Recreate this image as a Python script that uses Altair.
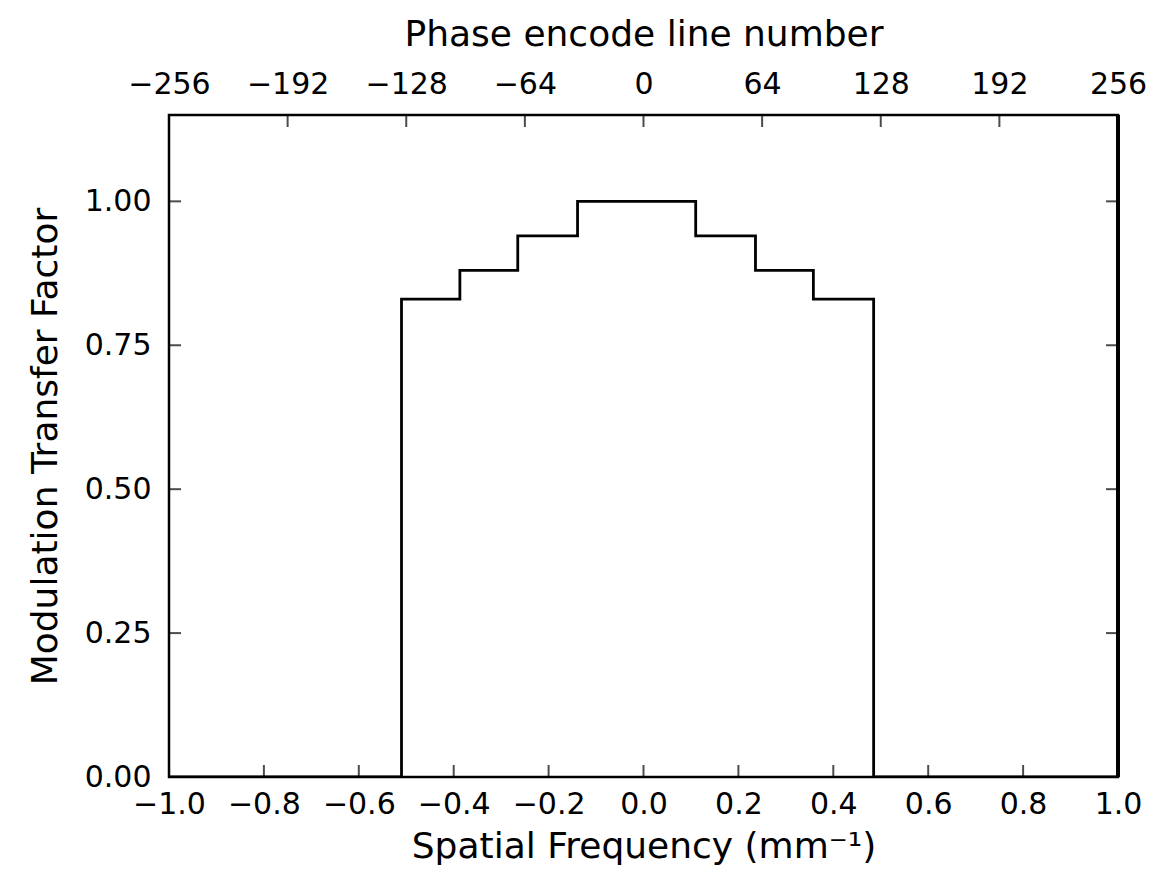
import altair as alt
import pandas as pd

# ---- data ----
freq = [-1.0, -0.51, -0.387, -0.265, -0.139, 0.11, 0.236, 0.358, 0.485, 1.0]
mtf = [0.0, 0.83, 0.88, 0.94, 1.00, 0.94, 0.88, 0.83, 0.0, 0.0]

bottom_labels = [-1.0, -0.8, -0.6, -0.4, -0.2, 0.0, 0.2, 0.4, 0.6, 0.8, 1.0]
bottom_ticks = [-0.8, -0.6, -0.4, -0.2, 0.0, 0.2, 0.4, 0.6, 0.8]
top_lines_labels = [-256, -192, -128, -64, 0, 64, 128, 192, 256]
top_lines_ticks = [-192, -128, -64, 0, 64, 128, 192]
y_labels = [0.0, 0.25, 0.50, 0.75, 1.00]
y_ticks = [0.25, 0.50, 0.75, 1.00]

FONT = "DejaVu Sans"
LABEL_SIZE = 30
TITLE_SIZE = 36
W, H = 949, 662
YMAX = 1.15

xscale = alt.Scale(domain=[-1, 1], nice=False, zero=False)
yscale = alt.Scale(domain=[0, YMAX], nice=False, zero=False)

step_df = pd.DataFrame({"freq": freq, "mtf": mtf})

common = dict(ticks=False, domain=False, grid=False, labelFlush=False,
              labelOverlap=False, labelFontSize=LABEL_SIZE, labelFont=FONT,
              labelColor="black", titleFontSize=TITLE_SIZE, titleFont=FONT,
              titleFontWeight="normal", titleColor="black")

line = alt.Chart(step_df).mark_line(
    interpolate="step-after", color="black", strokeWidth=2.8, clip=True
).encode(
    x=alt.X("freq:Q", scale=xscale,
            axis=alt.Axis(orient="bottom", values=bottom_labels, format=".1f",
                          title="Spatial Frequency (mm⁻¹)",
                          labelPadding=12, titlePadding=10, **common)),
    y=alt.Y("mtf:Q", scale=yscale,
            axis=alt.Axis(orient="left", values=y_labels, format=".2f",
                          title="Modulation Transfer Factor",
                          labelPadding=18, titlePadding=20, **common)),
)

top_df = pd.DataFrame({"line": top_lines_ticks})
top_ticks = alt.Chart(top_df).transform_calculate(
    pos="datum.line / 256"
).mark_tick(orient="vertical", size=24, thickness=2, color="black", clip=True).encode(
    x=alt.X("pos:Q", scale=xscale,
            axis=alt.Axis(orient="top", values=[v / 256 for v in top_lines_labels],
                          labelExpr="format(datum.value * 256, 'd')",
                          title="Phase encode line number",
                          labelPadding=16, titlePadding=16, **common)),
    y=alt.YDatum(YMAX, scale=yscale, axis=None),
)

bt_df = pd.DataFrame({"f": bottom_ticks})
bot_ticks = alt.Chart(bt_df).mark_tick(
    orient="vertical", size=24, thickness=2, color="black", clip=True
).encode(
    x=alt.X("f:Q", scale=xscale, axis=None),
    y=alt.YDatum(0, scale=yscale, axis=None),
)

yt_df = pd.DataFrame({"v": y_ticks})
left_ticks = alt.Chart(yt_df).mark_tick(
    orient="horizontal", size=24, thickness=2, color="black", clip=True
).encode(
    y=alt.Y("v:Q", scale=yscale, axis=None),
    x=alt.XDatum(-1, scale=xscale, axis=None),
)
right_ticks = alt.Chart(yt_df).mark_tick(
    orient="horizontal", size=24, thickness=2, color="black", clip=True
).encode(
    y=alt.Y("v:Q", scale=yscale, axis=None),
    x=alt.XDatum(1, scale=xscale, axis=None),
)

right_border = alt.Chart(pd.DataFrame({"f": [1.0]})).mark_rule(
    color="black", strokeWidth=4
).encode(
    x=alt.X("f:Q", scale=xscale, axis=None),
    y=alt.YDatum(0, scale=yscale, axis=None),
    y2=alt.Y2Datum(YMAX),
)

chart = alt.layer(
    line, top_ticks, bot_ticks, left_ticks, right_ticks, right_border
).resolve_axis(x="independent", y="independent").properties(
    width=W, height=H,
    autosize=alt.AutoSizeParams(type="none"),
    padding={"left": 169, "top": 115, "right": 33, "bottom": 116},
    background="white",
).configure_view(
    stroke="black", strokeWidth=2.5
)

chart.save("out.html", embed_options={"renderer": "svg", "actions": False})
